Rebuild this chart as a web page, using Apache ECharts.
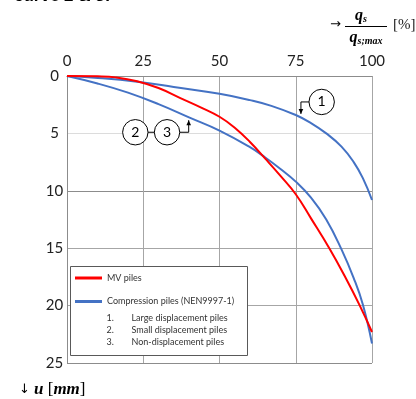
<!DOCTYPE html>
<html>
<head>
<meta charset="utf-8">
<script src="https://cdn.jsdelivr.net/npm/echarts@6/dist/echarts.min.js"></script>
<style>
html,body{margin:0;padding:0;background:#fff;}
#chart{width:416px;height:399px;}
</style>
</head>
<body>
<div id="chart"></div>
<script>
// ---- data (x = q_s/q_s;max [%], u = settlement [mm]) ----
const xTicks = [0, 25, 50, 75, 100];
const yTicks = [0, 5, 10, 15, 20, 25];

const mvX = [0, 10, 16, 23, 30, 37, 44, 50, 55, 60, 65, 70, 75, 80, 86, 91, 96, 100];
const mvU = [0, 0.03, 0.12, 0.45, 1.05, 1.9, 2.75, 3.55, 4.5, 5.75, 7.2, 8.7, 10.3, 12.4, 15.0, 17.4, 20.0, 22.3];

const largeX = [0, 9, 23, 35, 50, 60, 67, 75, 80, 85, 90, 94, 97, 100];
const largeU = [0, 0.15, 0.5, 0.95, 1.55, 2.1, 2.6, 3.4, 4.1, 5.0, 6.15, 7.5, 8.9, 10.8];

const smallX = [0, 10, 20, 30, 40, 50, 60, 65, 70, 75, 80, 85, 90, 94, 97, 100];
const smallU = [0, 0.65, 1.45, 2.45, 3.6, 4.75, 6.2, 7.1, 8.1, 9.2, 10.6, 12.5, 15.1, 17.6, 19.9, 23.3];

const legendNames = ['MV piles', 'Compression piles (NEN9997-1)'];
const pileTypes = ['Large displacement piles', 'Small displacement piles', 'Non-displacement piles'];

const zip = (xs, ys) => xs.map((x, i) => [x, ys[i]]);

const chart = echarts.init(document.getElementById('chart'), null, {renderer: 'canvas'});
const gridColor = '#a6a6a6';
const labelFont = 'Lato, "Open Sans", sans-serif';

const lineCommon = {type: 'line', smooth: 0.45, showSymbol: false};

chart.setOption({
  animation: false,
  backgroundColor: '#ffffff',
  grid: {left: 67, right: 44, top: 76, bottom: 36},
  xAxis: {
    type: 'value', position: 'top', min: 0, max: 100, interval: 25,
    axisLine: {show: true, onZero: false, lineStyle: {color: '#8c8c8c', width: 1}},
    axisTick: {show: false},
    axisLabel: {fontSize: 15, color: '#222', fontFamily: labelFont, margin: 7,
      formatter: v => xTicks.includes(v) ? String(v) : ''},
    splitLine: {show: true, lineStyle: {color: gridColor, width: 1}}
  },
  yAxis: {
    type: 'value', inverse: true, min: 0, max: 25, interval: 5,
    axisLine: {show: true, onZero: false, lineStyle: {color: '#8c8c8c', width: 1}},
    axisTick: {show: false},
    axisLabel: {fontSize: 15, color: '#222', fontFamily: labelFont, margin: 12.5, align: 'center',
      formatter: v => yTicks.includes(v) ? String(v) : ''},
    splitLine: {show: true, lineStyle: {color: ['#8c8c8c', '#dcdcdc', '#8c8c8c', gridColor, gridColor, '#8c8c8c'], width: 1}}
  },
  legend: {
    orient: 'vertical', left: 75, top: 272, padding: 0, itemGap: 11.5,
    itemWidth: 27, itemHeight: 3, icon: 'rect',
    data: legendNames,
    textStyle: {fontSize: 9, lineHeight: 12, color: '#333', fontFamily: labelFont},
    selectedMode: false
  },
  series: [
    Object.assign({name: legendNames[1], data: zip(largeX, largeU),
      lineStyle: {color: '#4472c4', width: 2}, itemStyle: {color: '#4472c4'}, z: 2}, lineCommon),
    Object.assign({name: legendNames[1], data: zip(smallX, smallU),
      lineStyle: {color: '#4472c4', width: 2}, itemStyle: {color: '#4472c4'}, z: 2}, lineCommon),
    Object.assign({name: legendNames[0], data: zip(mvX, mvU),
      lineStyle: {color: '#ff0000', width: 2}, itemStyle: {color: '#ff0000'}, z: 3}, lineCommon)
  ]
});

// ---- annotations, placed through the chart's own coordinate system ----
const P = (v, u) => chart.convertToPixel({gridIndex: 0}, [v, u]);
const g = [];
const serif = '"Liberation Serif", "DejaVu Serif", serif';

// clipped heading text at the very top
g.push({type: 'text', x: 14, y: -3.5, z: 10,
  style: {text: 'curve 2 & 3:', font: 'bold 17px "Liberation Sans", sans-serif', fill: '#000', verticalAlign: 'middle'}});

// legend box
g.push({type: 'rect', shape: {x: 70.5, y: 266.5, width: 177, height: 89}, z: 3,
  style: {fill: '#fff', stroke: '#595959', lineWidth: 1}});
pileTypes.forEach((t, i) => {
  const y = 318 + i * 11.8;
  g.push({type: 'text', x: 106.5, y: y, z: 5,
    style: {text: (i + 1) + '.', font: '9px ' + labelFont, fill: '#333', verticalAlign: 'middle'}});
  g.push({type: 'text', x: 131.5, y: y, z: 5,
    style: {text: t, font: '9px ' + labelFont, fill: '#333', verticalAlign: 'middle'}});
});

// circled labels
function circ(c, label) {
  g.push({type: 'circle', shape: {cx: c[0], cy: c[1], r: 12.7}, z: 6,
    style: {fill: '#fff', stroke: '#000', lineWidth: 1}});
  g.push({type: 'text', x: c[0], y: c[1], z: 7,
    style: {text: label, font: '14px ' + labelFont, fill: '#000', align: 'center', verticalAlign: 'middle'}});
}
function arrow(pts, dir) {
  g.push({type: 'polyline', shape: {points: pts}, z: 5, style: {stroke: '#000', lineWidth: 1, fill: null}});
  const t = pts[pts.length - 1];
  const s = dir === 'down' ? 1 : -1;
  g.push({type: 'polygon', z: 5, shape: {points: [[t[0], t[1]], [t[0] - 2.3, t[1] - 5 * s], [t[0] + 2.3, t[1] - 5 * s]]},
    style: {fill: '#000'}});
}
const c1 = P(83.5, 2.26), c2 = P(22.4, 4.9), c3 = P(32.8, 4.9);
const a1 = P(76.7, 3.3), a3 = P(39.9, 3.85);
arrow([[c1[0] - 12.7, c1[1]], [a1[0], c1[1]], [a1[0], a1[1]]], 'down');
g.push({type: 'line', shape: {x1: c2[0], y1: c2[1], x2: c3[0], y2: c3[1]}, z: 5, style: {stroke: '#000', lineWidth: 1}});
arrow([[c3[0] + 12.7, c3[1]], [a3[0], c3[1]], [a3[0], a3[1]]], 'up');
circ(c1, '1'); circ(c2, '2'); circ(c3, '3');

// axis titles
g.push({type: 'text', x: 330, y: 25, z: 5,
  style: {text: '→', font: '13px "DejaVu Sans", sans-serif', fill: '#000', verticalAlign: 'middle'}});
g.push({type: 'text', x: 361, y: 16, z: 5,
  style: {text: '{q|q}{s|s}', align: 'center', verticalAlign: 'middle',
    rich: {q: {font: 'bold italic 16px ' + serif, fill: '#000'}, s: {font: 'bold italic 10px ' + serif, fill: '#000', padding: [6, 0, 0, 0]}}}});
g.push({type: 'line', shape: {x1: 345, y1: 26.5, x2: 387, y2: 26.5}, z: 5, style: {stroke: '#000', lineWidth: 1}});
g.push({type: 'text', x: 366, y: 38, z: 5,
  style: {text: '{q|q}{s|s;max}', align: 'center', verticalAlign: 'middle',
    rich: {q: {font: 'bold italic 16px ' + serif, fill: '#000'}, s: {font: 'bold italic 10px ' + serif, fill: '#000', padding: [6, 0, 0, 0]}}}});
g.push({type: 'text', x: 393, y: 25, z: 5,
  style: {text: '[%]', font: '15px ' + serif, fill: '#222', verticalAlign: 'middle'}});

g.push({type: 'text', x: 19, y: 390, z: 5,
  style: {text: '{a|↓ }{u|u}{b| [}{m|mm}{b|]}', verticalAlign: 'middle',
    rich: {a: {font: '13px "DejaVu Sans", sans-serif', fill: '#000'},
      u: {font: 'bold italic 17px ' + serif, fill: '#000'},
      b: {font: '17px ' + serif, fill: '#000'},
      m: {font: 'bold italic 17px ' + serif, fill: '#000'}}}});

chart.setOption({graphic: g});
</script>
</body>
</html>
